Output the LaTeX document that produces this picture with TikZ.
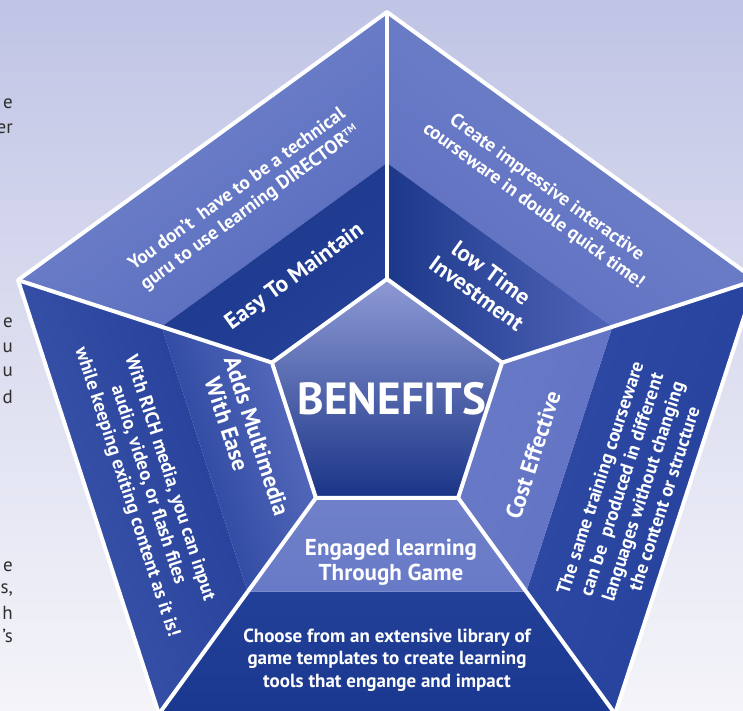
\documentclass[tikz,border=0pt]{standalone}
\usepackage{fontspec}
\setmainfont{PT Sans}
\usetikzlibrary{calc}
\definecolor{bgtop}{HTML}{C0C4E5}
\definecolor{bgbot}{HTML}{F4F4F9}
\definecolor{fraggray}{HTML}{2E2E2E}
\begin{document}
\begin{tikzpicture}[x=1pt,y=1pt,
  wline/.style={draw=white, line width=4pt, line join=round},
  lbl/.style={text=white, font=\bfseries\fontsize{19}{22.5}\selectfont, align=center, inner sep=0pt},
  head/.style={text=white, font=\bfseries\fontsize{23}{25}\selectfont, align=center, inner sep=0pt},
  frag/.style={text=fraggray, font=\fontsize{19}{19}\selectfont, anchor=east, inner sep=0pt}]
\path[use as bounding box] (0,0) rectangle (743,710);
\clip (0,0) rectangle (743,710);
\shade[top color=bgtop, bottom color=bgbot, middle color=bgtop!45!bgbot] (0,0) rectangle (743,710);

\coordinate (C) at (387,310);
\foreach \i/\a in {1/90,2/162,3/234,4/306,5/18}{
  \coordinate (o\i) at ($(C)+(\a:388)$);
  \coordinate (m\i) at ($(C)+(\a:237)$);
  \coordinate (n\i) at ($(C)+(\a:121)$);
}

% top-left sector
\shade[top color={rgb,255:red,118;green,135;blue,205}, bottom color={rgb,255:red,88;green,108;blue,190}, shading angle=36] (o1)--(o2)--(m2)--(m1)--cycle;
\shade[top color={rgb,255:red,28;green,56;blue,138}, bottom color={rgb,255:red,36;green,64;blue,152}, shading angle=36] (m1)--(m2)--(n2)--(n1)--cycle;
% top-right sector
\shade[top color={rgb,255:red,116;green,132;blue,203}, bottom color={rgb,255:red,94;green,112;blue,193}, shading angle=-36] (o5)--(o1)--(m1)--(m5)--cycle;
\shade[left color={rgb,255:red,28;green,56;blue,138}, right color={rgb,255:red,80;green,100;blue,184}] (m5)--(m1)--(n1)--(n5)--cycle;
% left sector
\shade[top color={rgb,255:red,62;green,86;blue,172}, bottom color={rgb,255:red,36;green,63;blue,153}, shading angle=108] (o2)--(o3)--(m3)--(m2)--cycle;
\shade[top color={rgb,255:red,34;green,62;blue,152}, bottom color={rgb,255:red,90;green,110;blue,191}, shading angle=108] (m2)--(m3)--(n3)--(n2)--cycle;
% bottom sector
\shade[top color={rgb,255:red,27;green,56;blue,144}, bottom color={rgb,255:red,34;green,64;blue,152}, shading angle=180] (o3)--(o4)--(m4)--(m3)--cycle;
\shade[top color={rgb,255:red,104;green,122;blue,199}, bottom color={rgb,255:red,112;green,128;blue,201}, shading angle=180] (m3)--(m4)--(n4)--(n3)--cycle;
% right sector
\shade[top color={rgb,255:red,36;green,64;blue,156}, bottom color={rgb,255:red,46;green,74;blue,164}, shading angle=-108] (o4)--(o5)--(m5)--(m4)--cycle;
\shade[top color={rgb,255:red,96;green,114;blue,194}, bottom color={rgb,255:red,104;green,122;blue,199}, shading angle=-108] (m4)--(m5)--(n5)--(n4)--cycle;

% centre pentagon
\shade[top color={rgb,255:red,142;green,154;blue,213}, middle color={rgb,255:red,70;green,92;blue,178}, bottom color={rgb,255:red,26;green,52;blue,134}] (n1)--(n2)--(n3)--(n4)--(n5)--cycle;

% white lines
\draw[wline] (o1)--(o2)--(o3)--(o4)--(o5)--cycle;
\foreach \i in {1,...,5}{\draw[wline] (n\i)--(o\i);}
\draw[wline] (n1)--(n2)--(n3)--(n4)--(n5)--cycle;

% texts
\node[lbl, rotate=36] (tl) at (244,511) {You don't\ \ have to be a technical\\guru to use learning DIRECTOR\textsuperscript{\fontsize{10}{10}\selectfont TM}};
\node[head, rotate=36] (tlh) at (295,433) {Easy To Maintain};
\node[lbl, rotate=-36] (tr) at (540,513) {Create impressive interactive\\courseware in double quick time!};
\node[head, rotate=-36] (trh) at (484,427) {low Time\\Investment};
\node[head, rotate=-72, align=left] (lh) at (245,270) {Adds Multimedia\\\hspace*{14pt}With Ease};
\node[lbl, rotate=-72] (l) at (148,225) {With RICH media, you can input\\audio, video, or flash files\\while keeping exiting content as it is!};
\node[head, rotate=72] (rh) at (533,255) {Cost Effective};
\node[lbl, rotate=72] (r) at (632,222) {The same training courseware\\can be\ \ produced in different\\languages without changing\\the content or structure};
\node[head] (bh) at (391,148) {Engaged learning\\Through Game};
\node[lbl] (b) at (387,50) {Choose from an extensive library of\\game templates to create learning\\tools that engange and impact};
\node[text=white, font=\bfseries\fontsize{45}{45}\selectfont, inner sep=0pt] (ben) at (392,311) {BENEFITS};

% cut-off text at the left edge
\node[frag] (f1) at (13,606) {e};
\node[frag] (f2) at (13,581) {er};
\node[frag] (f3) at (13,387) {e};
\node[frag] (f4) at (13,362) {u};
\node[frag] (f5) at (13,338) {u};
\node[frag] (f6) at (13,313) {d};
\node[frag] (f7) at (13,143) {e};
\node[frag] (f8) at (13,120) {s,};
\node[frag] (f9) at (13,97) {h};
\node[frag] (f10) at (13,74) {'s};
\end{tikzpicture}
\end{document}
